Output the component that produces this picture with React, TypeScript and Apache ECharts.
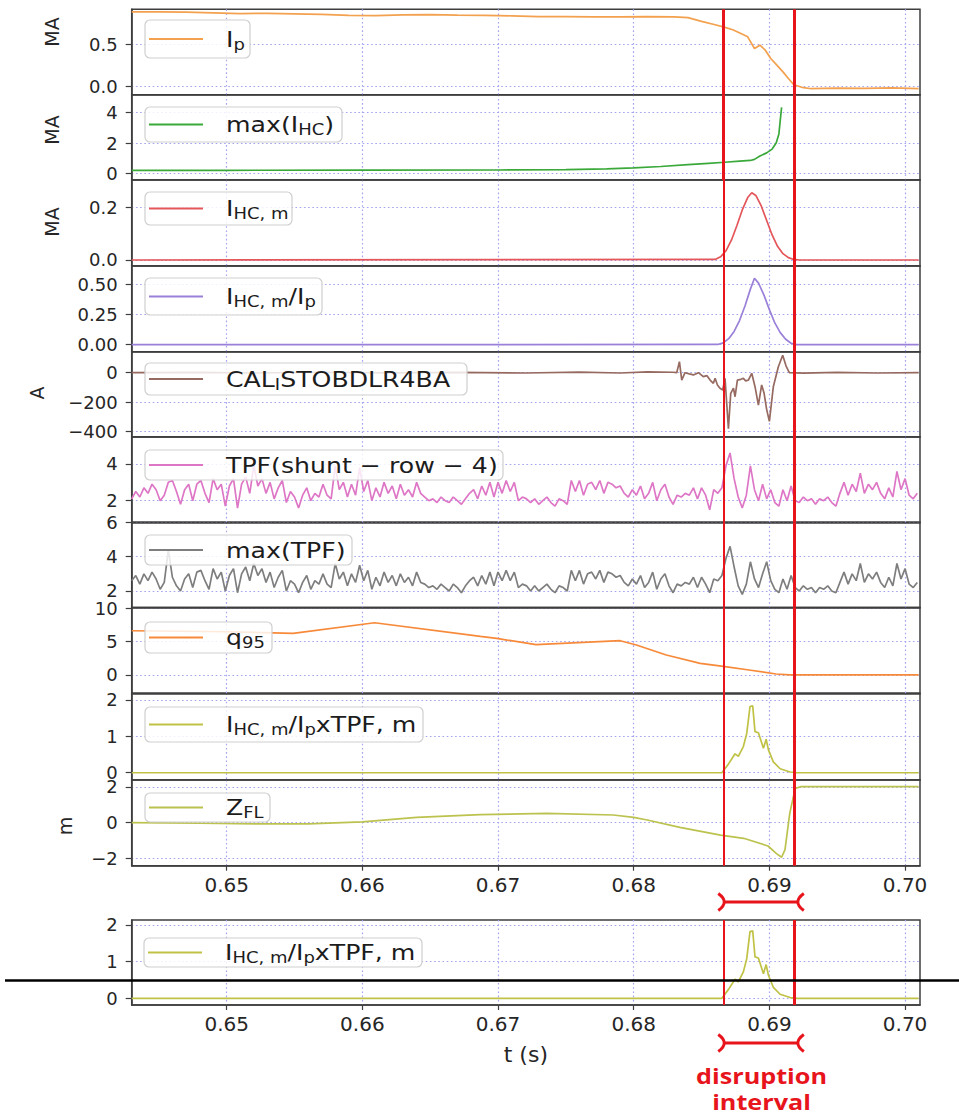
import { useEffect, useRef } from "react";
import * as echarts from "echarts";

// ---------- time axis ----------
const T_MIN = 0.643;
const T_MAX = 0.7011;
const T_TICKS = [0.65, 0.66, 0.67, 0.68, 0.69, 0.7];
const DISRUPTION = [0.6866, 0.6918];

// ---------- plasma current Ip (MA) ----------
const IP_T = [0.643, 0.645, 0.647, 0.649, 0.651, 0.653, 0.655, 0.657, 0.659, 0.661, 0.663, 0.665, 0.667, 0.669, 0.671, 0.673, 0.675, 0.677, 0.679, 0.681, 0.683, 0.684, 0.685, 0.686, 0.6866, 0.6873, 0.6879, 0.6884, 0.6889, 0.6893, 0.6897, 0.6901, 0.6905, 0.691, 0.6914, 0.6918, 0.6925, 0.693, 0.695, 0.697, 0.699, 0.701];
const IP_V = [0.89, 0.888, 0.885, 0.878, 0.868, 0.872, 0.865, 0.858, 0.848, 0.845, 0.852, 0.855, 0.85, 0.848, 0.842, 0.832, 0.833, 0.83, 0.828, 0.832, 0.83, 0.82, 0.775, 0.735, 0.71, 0.675, 0.63, 0.59, 0.45, 0.49, 0.43, 0.33, 0.26, 0.17, 0.09, 0.015, -0.02, -0.03, -0.025, -0.028, -0.022, -0.03];

// ---------- max(I_HC) (MA) ----------
const MAX_IHC_T = [0.643, 0.65, 0.66, 0.67, 0.675, 0.678, 0.68, 0.682, 0.684, 0.6855, 0.6867, 0.6878, 0.6886, 0.6889, 0.6893, 0.6898, 0.6902, 0.6905, 0.6907, 0.6908, 0.6909];
const MAX_IHC_V = [0.2, 0.2, 0.21, 0.22, 0.25, 0.3, 0.36, 0.45, 0.57, 0.66, 0.73, 0.8, 0.85, 0.92, 1.15, 1.35, 1.6, 2.0, 2.6, 3.5, 4.35];

// ---------- I_HC,m (MA) ----------
const IHCM_T = [0.643, 0.686, 0.6864, 0.6868, 0.6872, 0.6876, 0.688, 0.6884, 0.6887, 0.689, 0.6894, 0.6898, 0.6902, 0.6906, 0.691, 0.6914, 0.6918, 0.6922, 0.701];
const IHCM_V = [0, 0.002, 0.012, 0.035, 0.075, 0.13, 0.19, 0.237, 0.255, 0.245, 0.205, 0.15, 0.095, 0.052, 0.024, 0.009, 0.002, 0, 0];

// ---------- I_HC,m / Ip ----------
const RATIO_T = [0.643, 0.6862, 0.6866, 0.687, 0.6874, 0.6878, 0.6882, 0.6886, 0.6889, 0.6892, 0.6896, 0.69, 0.6904, 0.6908, 0.6912, 0.6916, 0.692, 0.701];
const RATIO_V = [0, 0.002, 0.015, 0.05, 0.11, 0.2, 0.32, 0.46, 0.55, 0.51, 0.41, 0.29, 0.18, 0.1, 0.045, 0.012, 0, 0];

// ---------- CAL_ISTOBDLR4BA (A) ----------
const CAL_T = [0.643, 0.648, 0.652, 0.657, 0.662, 0.667, 0.672, 0.676, 0.679, 0.681, 0.6829, 0.68317, 0.68337, 0.68354, 0.68378, 0.6841, 0.6844, 0.68477, 0.68513, 0.6854, 0.68563, 0.68587, 0.686, 0.68617, 0.68636, 0.68656, 0.68673, 0.68698, 0.68715, 0.68735, 0.68747, 0.68764, 0.6879, 0.68808, 0.68825, 0.68845, 0.6887, 0.68894, 0.68919, 0.68943, 0.68961, 0.6898, 0.69, 0.69029, 0.69066, 0.69098, 0.69123, 0.69147, 0.6925, 0.695, 0.698, 0.701];
const CAL_V = [0, 2, -2, 3, -1, 2, -2, 4, -2, 5, 3, 0, 75, -50, 0, -8, -15, 0, -27, -20, -50, -72, -38, -83, -105, -117, -38, -380, -140, -105, -163, -50, -45, -38, -55, -50, -4, -95, -220, -83, -140, -250, -330, -95, 40, 118, 45, 0, -3, 2, -2, 1];

// ---------- TPF signals, uniform sampling ----------
const TPF_T0 = 0.643;
const TPF_DT = 0.0003;
const TPF = [
  2.1, 2.5, 2.2, 2.7, 2.4, 2.9, 2.6, 2.0, 2.3, 3.0,
  3.1, 2.5, 1.8, 2.6, 2.9, 2.0, 2.9, 3.1, 2.4, 1.9,
  3.2, 2.6, 2.9, 1.7, 2.8, 3.2, 1.6, 2.9, 3.3, 2.4,
  3.9, 2.8, 3.2, 2.4, 3.0, 2.1, 2.7, 3.1, 1.9, 2.5,
  2.2, 1.6, 2.3, 2.7, 2.0, 2.4, 2.2, 2.9, 2.3, 2.1,
  3.9, 2.6, 3.0, 2.2, 2.9, 2.3, 3.8, 2.5, 3.1, 2.0,
  2.7, 2.2, 3.0, 2.4, 2.8, 2.1, 2.9, 2.3, 2.6, 2.2,
  3.0, 2.4, 2.2, 2.0, 2.1, 1.9, 2.2, 2.0, 1.9, 2.2,
  2.0, 1.8, 2.1, 2.4, 2.6, 2.1, 2.8, 2.3, 3.0, 2.2,
  3.0, 2.4, 3.1, 2.5, 3.0, 2.0, 2.2, 2.1, 1.9, 2.1,
  1.8, 2.0, 2.2, 1.9, 1.7, 2.1, 2.0, 1.8, 3.1, 2.5,
  3.1, 2.3, 2.9, 3.0, 2.6, 3.1, 2.4, 3.0, 2.9, 2.7,
  2.8, 2.4, 2.2, 2.6, 2.3, 2.8, 2.1, 2.4, 3.0, 2.0,
  2.6, 2.9, 2.2, 1.8, 2.3, 2.2, 2.4, 2.3, 2.7, 2.1,
  2.7, 2.3, 1.5, 2.6, 2.4, 2.7, 3.9, 4.6, 3.2, 2.2,
  1.6, 2.3, 3.9, 2.6, 2.0, 2.9, 2.1, 2.6, 1.9, 1.7,
  2.6, 2.0, 2.8, 2.0, 1.9, 2.2, 2.0, 2.1, 1.8, 2.1,
  2.0, 2.2, 1.9, 1.7, 2.4, 3.0, 2.3, 2.9, 2.5, 3.5,
  2.4, 2.9, 2.6, 3.0, 2.4, 2.1, 2.7, 2.2, 3.6, 2.6,
  3.2, 2.3, 2.1, 2.4,
];
const MAX_TPF = [
  2.6, 2.9, 2.4, 3.0, 2.6, 3.1, 2.7, 2.1, 2.5, 4.4,
  2.8, 2.3, 2.0, 2.7, 3.0, 2.2, 3.1, 3.2, 2.6, 2.1,
  3.3, 2.7, 3.1, 2.0, 2.9, 3.3, 1.9, 3.0, 3.4, 2.6,
  3.6, 2.9, 3.3, 2.5, 3.1, 2.2, 2.8, 3.2, 2.0, 2.6,
  2.4, 1.9, 2.5, 2.9, 2.1, 2.6, 2.4, 3.0, 2.4, 2.2,
  3.6, 2.7, 3.1, 2.3, 3.0, 2.5, 3.5, 2.6, 3.2, 2.1,
  2.8, 2.3, 3.1, 2.5, 2.9, 2.3, 3.0, 2.5, 2.8, 2.3,
  3.1, 2.5, 2.4, 2.2, 2.3, 2.1, 2.4, 2.2, 2.0, 2.4,
  2.2, 1.9, 2.3, 2.6, 2.8, 2.3, 2.9, 2.4, 3.1, 2.3,
  3.1, 2.6, 3.2, 2.6, 3.1, 2.2, 2.4, 2.3, 2.0, 2.3,
  2.0, 2.2, 2.4, 2.1, 1.9, 2.3, 2.2, 2.0, 3.2, 2.6,
  3.2, 2.4, 3.0, 3.1, 2.7, 3.2, 2.5, 3.1, 3.0, 2.8,
  2.9, 2.5, 2.3, 2.7, 2.4, 2.9, 2.2, 2.5, 3.1, 2.1,
  2.7, 3.0, 2.3, 1.9, 2.4, 2.3, 2.5, 2.4, 2.8, 2.2,
  2.8, 2.4, 1.9, 2.7, 2.6, 2.9, 3.9, 4.6, 3.4, 2.3,
  1.8, 2.4, 3.7, 2.7, 2.2, 3.0, 3.7, 2.6, 2.1, 1.9,
  2.7, 2.1, 2.9, 2.2, 2.0, 2.3, 2.1, 2.2, 1.9, 2.2,
  2.1, 2.3, 2.0, 1.9, 2.5, 3.1, 2.4, 3.0, 2.6, 3.6,
  2.5, 3.0, 2.7, 3.1, 2.5, 2.2, 2.8, 2.3, 3.6, 2.7,
  3.3, 2.4, 2.2, 2.5,
];

// ---------- q95 ----------
const Q95_T = [0.643, 0.65, 0.6549, 0.6609, 0.6687, 0.6699, 0.6728, 0.679, 0.6802, 0.6824, 0.6849, 0.6866, 0.6885, 0.6905, 0.6915, 0.701];
const Q95_V = [6.65, 6.5, 6.25, 7.85, 5.8, 5.5, 4.55, 5.15, 4.5, 3.0, 1.75, 1.3, 0.75, 0.15, 0.02, 0.02];

// ---------- I_HC,m / Ip x TPF, m ----------
const PROD_T = [0.643, 0.6865, 0.687, 0.68747, 0.68771, 0.68808, 0.68833, 0.68857, 0.68877, 0.68894, 0.68919, 0.68956, 0.68976, 0.68993, 0.69029, 0.69079, 0.69153, 0.692, 0.701];
const PROD_V = [0, 0, 0.25, 0.52, 0.45, 0.72, 1.08, 1.82, 1.84, 1.13, 1.1, 0.67, 0.92, 0.63, 0.3, 0.11, 0.02, 0, 0];

// ---------- Z_FL (m) ----------
const ZFL_T = [0.643, 0.648, 0.653, 0.656, 0.66, 0.664, 0.6687, 0.6736, 0.6785, 0.68, 0.681, 0.6834, 0.6864, 0.6881, 0.6899, 0.6905, 0.6909, 0.69115, 0.6915, 0.6919, 0.6923, 0.701];
const ZFL_V = [0, -0.03, -0.07, -0.06, 0.05, 0.3, 0.45, 0.52, 0.43, 0.3, 0.15, -0.26, -0.69, -0.87, -1.3, -1.71, -1.93, -1.5, 0.52, 1.92, 2.01, 2.01];

// ---------- y tick values per panel ----------
const IP_TICKS = [0, 0.5];
const MAX_IHC_TICKS = [0, 2, 4];
const IHCM_TICKS = [0, 0.2];
const RATIO_TICKS = [0, 0.25, 0.5];
const CAL_TICKS = [-400, -200, 0];
const TPF_TICKS = [2, 4];
const MAX_TPF_TICKS = [2, 4, 6];
const Q95_TICKS = [0, 5, 10];
const PROD_TICKS = [0, 1, 2];
const ZFL_TICKS = [-2, 0, 2];

// ---------- styling ----------
const FONT = "DejaVu Sans";
const INK = "#262626";
const RED = "#e8141c";
const FRAME = "#3e3e3e";
const DOTS = "#a4a4f0";
const PLOT_LEFT = 131.7;
const PLOT_RIGHT = 920;

const zip = (t: number[], v: number[]) => t.map((x, i) => [x, v[i]]);
const sampled = (v: number[]) => v.map((y, i) => [+(TPF_T0 + i * TPF_DT).toFixed(5), y]);

type Part = [string, boolean?];
const PROD_LEGEND: Part[] = [["I"], ["HC, m", true], ["/I"], ["p", true], ["xTPF, m"]];

interface Panel {
  top: number;
  bottom: number;
  min: number;
  max: number;
  ticks: number[];
  digits: number;
  color: string;
  data: number[][];
  legend: Part[];
  box: [number, number, number, number];
  xLabels?: boolean;
  xName?: string;
}

const PANELS: Panel[] = [
  { top: 9.3, bottom: 94.7, min: -0.104, max: 0.92, ticks: IP_TICKS, digits: 1, color: "#f3a14e", data: zip(IP_T, IP_V), legend: [["I"], ["p", true]], box: [145, 20, 105, 38] },
  { top: 94.7, bottom: 180, min: -0.44, max: 5.19, ticks: MAX_IHC_TICKS, digits: 0, color: "#3aa93a", data: zip(MAX_IHC_T, MAX_IHC_V), legend: [["max(I"], ["HC", true], [")"]], box: [145, 107, 197, 35] },
  { top: 180, bottom: 266, min: -0.0228, max: 0.3036, ticks: IHCM_TICKS, digits: 1, color: "#e4565a", data: zip(IHCM_T, IHCM_V), legend: [["I"], ["HC, m", true]], box: [145, 192, 147, 33] },
  { top: 266, bottom: 351.7, min: -0.058, max: 0.6515, ticks: RATIO_TICKS, digits: 2, color: "#9a80d8", data: zip(RATIO_T, RATIO_V), legend: [["I"], ["HC, m", true], ["/I"], ["p", true]], box: [145, 278, 177, 37] },
  { top: 351.7, bottom: 437, min: -435.9, max: 142.4, ticks: CAL_TICKS, digits: 0, color: "#966a60", data: zip(CAL_T, CAL_V), legend: [["CAL"], ["I", true], ["STOBDLR4BA"]], box: [145, 363, 322, 32] },
  { top: 437, bottom: 522.3, min: 0.823, max: 5.47, ticks: TPF_TICKS, digits: 0, color: "#de76c6", data: sampled(TPF), legend: [["TPF(shunt \u2212 row \u2212 4)"]], box: [145, 450, 358, 30] },
  { top: 522.3, bottom: 607.5, min: 1.039, max: 6, ticks: MAX_TPF_TICKS, digits: 0, color: "#7e7e7e", data: sampled(MAX_TPF), legend: [["max(TPF)"]], box: [145, 535, 207, 30] },
  { top: 607.5, bottom: 693.3, min: -2.75, max: 10.14, ticks: Q95_TICKS, digits: 0, color: "#f78a3a", data: zip(Q95_T, Q95_V), legend: [["q"], ["95", true]], box: [145, 622, 127, 31] },
  { top: 693.3, bottom: 780, min: -0.2, max: 2.184, ticks: PROD_TICKS, digits: 0, color: "#c0c246", data: zip(PROD_T, PROD_V), legend: PROD_LEGEND, box: [145, 707, 278, 35] },
  { top: 780, bottom: 865.7, min: -2.4, max: 2.385, ticks: ZFL_TICKS, digits: 0, color: "#bcc24e", data: zip(ZFL_T, ZFL_V), legend: [["Z"], ["FL", true]], box: [145, 793, 125, 29], xLabels: true },
  { top: 920, bottom: 1005, min: -0.183, max: 2.136, ticks: PROD_TICKS, digits: 0, color: "#c0c246", data: zip(PROD_T, PROD_V), legend: PROD_LEGEND, box: [144, 938, 278, 29], xLabels: true, xName: "t (s)" },
];

const BOTTOM = PANELS.length - 1;

const fmt = (digits: number) => (v: number) => {
  const s = Math.abs(v).toFixed(digits);
  return v < -1e-9 ? "\u2212" + s : s;
};

const RICH = {
  n: { fontSize: 21, fontFamily: FONT, fill: "#1c1c1c" },
  s: { fontSize: 15, fontFamily: FONT, fill: "#1c1c1c", padding: [12, 0, 0, 0] },
};
const richText = (parts: Part[]) => parts.map(([t, sub]) => `{${sub ? "s" : "n"}|${t}}`).join("");

function buildOption() {
  const grid = PANELS.map((p) => ({
    left: PLOT_LEFT,
    width: PLOT_RIGHT - PLOT_LEFT,
    top: p.top,
    height: p.bottom - p.top,
    show: true,
    backgroundColor: "#ffffff",
    borderColor: FRAME,
    borderWidth: 1.5,
    containLabel: false,
    outerBoundsMode: "none",
  }));

  const xAxis = PANELS.map((p, i) => ({
    type: "value",
    gridIndex: i,
    min: T_MIN,
    max: T_MAX,
    position: "bottom",
    name: p.xName || "",
    nameLocation: "middle",
    nameGap: 38,
    nameTextStyle: { fontFamily: FONT, fontSize: 22, color: INK },
    axisLine: { show: true, onZero: false, lineStyle: { color: FRAME, width: 1.5 } },
    axisTick: { show: !!p.xLabels, customValues: T_TICKS, length: 5, lineStyle: { color: FRAME, width: 1.2 } },
    axisLabel: {
      show: !!p.xLabels,
      customValues: T_TICKS,
      formatter: (v: number) => v.toFixed(2),
      fontFamily: FONT,
      fontSize: 20,
      color: INK,
      margin: 9,
    },
    splitLine: { show: true, lineStyle: { color: DOTS, width: 1.2, type: [1.6, 2.6] } },
  }));

  const yAxis = PANELS.map((p, i) => ({
    type: "value",
    gridIndex: i,
    min: p.min,
    max: p.max,
    position: "left",
    axisLine: { show: true, onZero: false, lineStyle: { color: FRAME, width: 1.5 } },
    axisTick: { show: true, customValues: p.ticks, length: 6, lineStyle: { color: FRAME, width: 1.2 } },
    axisLabel: {
      show: true,
      customValues: p.ticks,
      formatter: fmt(p.digits),
      fontFamily: FONT,
      fontSize: 18,
      color: INK,
      margin: 14,
    },
    splitLine: { show: true, lineStyle: { color: DOTS, width: 1.2, type: [1.6, 2.6] } },
  }));

  const series = PANELS.map((p, i) => ({
    type: "line",
    xAxisIndex: i,
    yAxisIndex: i,
    data: p.data,
    symbol: "none",
    showSymbol: false,
    silent: true,
    clip: true,
    lineStyle: { color: p.color, width: 1.7 },
    itemStyle: { color: p.color },
    emphasis: { disabled: true },
    markLine: {
      silent: true,
      precision: 6,
      symbol: ["none", "none"],
      label: { show: false },
      emphasis: { disabled: true },
      data: [
        { xAxis: DISRUPTION[0], lineStyle: { color: RED, width: i < 2 ? 3 : 2, type: "solid" } },
        { xAxis: DISRUPTION[1], lineStyle: { color: RED, width: 3, type: "solid" } },
      ],
    },
  }));

  return { animation: false, backgroundColor: "#ffffff", grid, xAxis, yAxis, series };
}

function buildGraphics(xa: number, xb: number) {
  const els: any[] = [];
  PANELS.forEach((p) => {
    const [bx, by, bw, bh] = p.box;
    const cy = by + bh / 2;
    els.push({ type: "rect", z: 50, shape: { x: bx, y: by, width: bw, height: bh, r: 5 }, style: { fill: "rgba(255,255,255,0.82)", stroke: "#cfcfcf", lineWidth: 1.2 } });
    els.push({ type: "line", z: 51, shape: { x1: bx + 4, y1: cy, x2: bx + 58, y2: cy }, style: { stroke: p.color, lineWidth: 2 } });
    els.push({ type: "text", z: 51, x: bx + 81, y: cy, scaleX: 1.2, style: { text: richText(p.legend), rich: RICH, align: "left", verticalAlign: "middle" } });
  });

  // y axis titles
  const yTitle = (text: string, x: number, y: number) => ({
    type: "text", z: 51, x, y, rotation: Math.PI / 2,
    style: { text, fontFamily: FONT, fontSize: 19, fill: INK, align: "center", verticalAlign: "middle" },
  });
  els.push(yTitle("MA", 52, 32), yTitle("MA", 52, 130), yTitle("MA", 52, 222), yTitle("A", 37, 393), yTitle("m", 65, 826));

  // disruption interval brackets
  const bracket = (y: number) => [
    { type: "line", z: 60, shape: { x1: xa + 1, y1: y, x2: xb + 4, y2: y }, style: { stroke: RED, lineWidth: 3 } },
    { type: "bezierCurve", z: 60, shape: { x1: xa - 5, y1: y - 8.5, cpx1: xa + 7, cpy1: y, x2: xa - 5, y2: y + 8.5 }, style: { stroke: RED, lineWidth: 3, fill: "none" } },
    { type: "bezierCurve", z: 60, shape: { x1: xb + 10, y1: y - 8.5, cpx1: xb - 2, cpy1: y, x2: xb + 10, y2: y + 8.5 }, style: { stroke: RED, lineWidth: 3, fill: "none" } },
  ];
  els.push(...bracket(902), ...bracket(1043));

  const mid = (xa + xb) / 2 + 3;
  const redText = (text: string, y: number) => ({
    type: "text", z: 60, x: mid, y, scaleX: 1.2,
    style: { text, fontFamily: "Open Sans", fontWeight: "bold", fontSize: 21, fill: RED, align: "center", verticalAlign: "middle" },
  });
  els.push(redText("disruption", 1076), redText("interval", 1102));

  // separator rule across the figure
  els.push({ type: "line", z: 70, shape: { x1: 5, y1: 980.5, x2: 959, y2: 980.5 }, style: { stroke: "#000000", lineWidth: 2.5 } });
  return els;
}

export default function App() {
  const ref = useRef<HTMLDivElement>(null);
  useEffect(() => {
    const el = ref.current;
    if (!el) return;
    const chart = echarts.init(el, undefined, { renderer: "svg" });
    chart.setOption(buildOption() as any);
    const xa = chart.convertToPixel({ xAxisIndex: BOTTOM } as any, DISRUPTION[0]) as unknown as number;
    const xb = chart.convertToPixel({ xAxisIndex: BOTTOM } as any, DISRUPTION[1]) as unknown as number;
    chart.setOption({ graphic: { elements: buildGraphics(xa, xb) } } as any);
    return () => chart.dispose();
  }, []);
  return (
    <div
      ref={ref}
      style={{ position: "absolute", left: 0, top: 0, width: 959, height: 1116, background: "#ffffff" }}
    />
  );
}
